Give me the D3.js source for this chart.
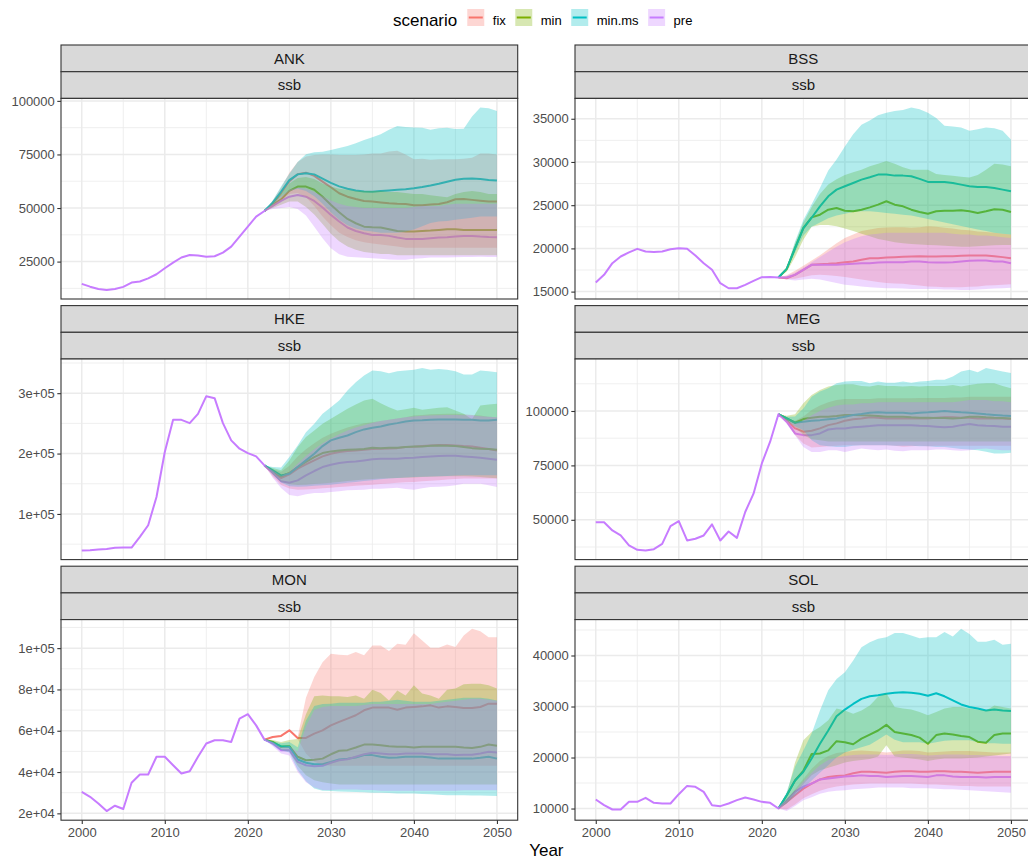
<!DOCTYPE html>
<html>
<head>
<meta charset="utf-8">
<script src="https://cdn.jsdelivr.net/npm/d3@7"></script>
<style>
  body { margin: 0; background: #ffffff; }
  svg { display: block; }
  text { font-family: "Liberation Sans", Arial, sans-serif; }
</style>
</head>
<body>
<svg id="chart" width="1028" height="860"></svg>
<script>
// ---- Spawning stock biomass by stock and management scenario ----
const stocks = ["ANK", "BSS", "HKE", "MEG", "MON", "SOL"];
const scenarios = ["fix", "min", "minms", "pre"];
const scenarioLabels = ["fix", "min", "min.ms", "pre"];
const scenarioColors = ["#F8766D", "#7CAE00", "#00BFC4", "#C77CFF"];
const historyScenario = "pre";   // the observed series is shown once, in this scenario's colour
const indicator = "ssb";
const xTitle = "Year";
const legendTitle = "scenario";

const firstYear = 2000, projYear = 2022, lastYear = 2050;
const histYears = d3.range(firstYear, projYear + 1);   // 2000..2022
const projYears = d3.range(projYear, lastYear + 1);    // 2022..2050
const xTicks = [2000, 2010, 2020, 2030, 2040, 2050];

// ---------------- ANK ----------------
const ANK_hist = [14600, 13300, 12200, 11800, 12200, 13200, 15200, 15700, 17200, 19100, 21900, 24500, 26900, 28100, 27800, 27300, 27500, 29200, 32000, 36700, 41300, 46000, 48600];
const ANK_fix_med = [48600, 52000, 57000, 62500, 65800, 66500, 65000, 62300, 59700, 56900, 55300, 54200, 53300, 53000, 52600, 52200, 52000, 51900, 51300, 51300, 51600, 51900, 52700, 54100, 54200, 53800, 53400, 53000, 53000];
const ANK_fix_lo = [48600, 50500, 53500, 56500, 57000, 55000, 51000, 46000, 42000, 38500, 36500, 35000, 34000, 33500, 33000, 32500, 32000, 31500, 31500, 31500, 31500, 31500, 31500, 31500, 31500, 31500, 31500, 31500, 31500];
const ANK_fix_hi = [48600, 53500, 59500, 66500, 71500, 74000, 74800, 75000, 75000, 74800, 74800, 74800, 75000, 75500, 75500, 76400, 76700, 75000, 72800, 73000, 72500, 72800, 72800, 72800, 73000, 73500, 75500, 75500, 75000];
const ANK_min_med = [48600, 51500, 54000, 58000, 60000, 60000, 58500, 55300, 51500, 48000, 44900, 42900, 41300, 41000, 40900, 40100, 39300, 39000, 39000, 39300, 39500, 39800, 40100, 40100, 39800, 39800, 39800, 39800, 39800];
const ANK_min_lo = [48600, 50000, 51500, 53000, 53000, 50500, 47000, 42500, 38000, 34500, 32000, 30500, 29500, 29000, 28500, 28500, 28000, 28000, 28000, 28000, 28000, 28000, 28000, 28000, 28000, 28000, 28000, 28000, 28000];
const ANK_min_hi = [48600, 52500, 56500, 61500, 64000, 64500, 63500, 61500, 60000, 59000, 58500, 58000, 58000, 58000, 58000, 57500, 57500, 57000, 56500, 56500, 56000, 55500, 55000, 56500, 57500, 58000, 57500, 56500, 56500];
const ANK_minms_med = [48600, 52500, 57600, 63000, 65700, 66200, 65700, 63700, 61700, 60100, 59000, 58200, 57700, 57600, 57900, 58200, 58500, 58800, 59200, 59800, 60500, 61300, 62300, 63200, 63700, 63800, 63500, 63100, 62800];
const ANK_minms_lo = [48600, 51500, 55000, 58000, 59000, 58000, 55500, 52000, 48000, 44500, 42000, 40500, 39500, 39000, 38500, 38500, 38500, 39000, 40000, 41500, 43000, 43700, 44000, 44500, 45000, 45500, 46000, 46000, 46000];
const ANK_minms_hi = [48600, 53500, 60000, 66000, 71500, 75100, 76000, 76300, 77100, 78000, 79000, 80200, 81800, 83000, 84400, 86500, 88300, 87800, 87600, 87500, 86500, 87200, 87500, 86900, 87000, 92700, 96900, 96600, 95300];
const ANK_pre_med = [48600, 51000, 53300, 55300, 56100, 55300, 53300, 50200, 46800, 43700, 40900, 39300, 38200, 37400, 37400, 37000, 36200, 35600, 35600, 35600, 35900, 36200, 36400, 36700, 37000, 37000, 36700, 36500, 36400];
const ANK_pre_lo = [48600, 49500, 50000, 50500, 49500, 46500, 41300, 35900, 31200, 28400, 27300, 27000, 26800, 26600, 26300, 26000, 25900, 25900, 26300, 26600, 26900, 26900, 26900, 27000, 27200, 27200, 27300, 27200, 27200];
const ANK_pre_hi = [48600, 52000, 55500, 58500, 59500, 59000, 57500, 55500, 53500, 52000, 51000, 50500, 50000, 50000, 50000, 50000, 50000, 50000, 50500, 51000, 51000, 51000, 51500, 52000, 52000, 52000, 52000, 52000, 52000];
const ANK_ticks = [25000, 50000, 75000, 100000];
const ANK_tickLabels = ["25000", "50000", "75000", "100000"];

// ---------------- BSS ----------------
const BSS_hist = [16050, 16940, 18290, 19060, 19530, 19950, 19640, 19570, 19640, 19900, 20030, 19950, 19180, 18290, 17520, 15970, 15390, 15390, 15780, 16240, 16670, 16700, 16630];
const BSS_fix_med = [16630, 16550, 16940, 17520, 18100, 18170, 18210, 18290, 18400, 18480, 18680, 18870, 18870, 18950, 18990, 19020, 19060, 19100, 19060, 19060, 19100, 19100, 19140, 19180, 19180, 19180, 19100, 18990, 18870];
const BSS_fix_lo = [16630, 16450, 16500, 16700, 16900, 16950, 16900, 16800, 16700, 16550, 16400, 16250, 16100, 16000, 15950, 15900, 15800, 15700, 15600, 15550, 15500, 15500, 15500, 15550, 15600, 15700, 15750, 15800, 15850];
const BSS_fix_hi = [16630, 16900, 17400, 18000, 18600, 19200, 19900, 20600, 21200, 21600, 22000, 22200, 22350, 22430, 22450, 22450, 22400, 22450, 22550, 22500, 22400, 22300, 22150, 22100, 21950, 21900, 21800, 21700, 21600];
const BSS_min_med = [16630, 17630, 20030, 22350, 23590, 23900, 24480, 24670, 24360, 24290, 24480, 24750, 25060, 25450, 25060, 24870, 24480, 24210, 24010, 24290, 24360, 24360, 24400, 24290, 24100, 24290, 24520, 24480, 24210];
const BSS_min_lo = [16630, 17300, 19000, 21000, 22500, 22700, 22700, 22550, 22300, 22000, 21700, 21400, 21100, 20900, 20700, 20600, 20500, 20450, 20400, 20350, 20300, 20250, 20200, 20200, 20250, 20300, 20350, 20400, 20400];
const BSS_min_hi = [16630, 17800, 20600, 23000, 24800, 26300, 27400, 28000, 28500, 28800, 29100, 29500, 29800, 30100, 29800, 29400, 29100, 29100, 29100, 28600, 28500, 28400, 28300, 28200, 28500, 29100, 29800, 29700, 29500];
const BSS_minms_med = [16630, 17630, 20030, 22350, 23550, 24870, 26030, 26800, 27190, 27570, 27960, 28230, 28540, 28540, 28420, 28420, 28350, 28040, 27690, 27690, 27690, 27570, 27380, 27190, 27110, 27110, 26990, 26800, 26610];
const BSS_minms_lo = [16630, 17500, 19500, 21500, 22500, 23000, 23500, 23800, 24000, 24200, 24300, 24300, 24200, 24100, 24000, 23900, 23800, 23600, 23400, 23200, 23000, 22800, 22600, 22400, 22200, 22000, 21800, 21700, 21600];
const BSS_minms_hi = [16630, 17800, 20800, 23300, 25100, 27000, 29000, 30300, 31800, 33200, 34300, 34800, 35400, 35700, 35900, 36000, 36300, 36100, 35700, 35100, 34200, 34100, 34000, 33600, 33800, 34000, 33900, 33600, 32600];
const BSS_pre_med = [16630, 16630, 16940, 17520, 18100, 18100, 18100, 18100, 18170, 18210, 18290, 18290, 18370, 18410, 18410, 18410, 18480, 18480, 18410, 18370, 18370, 18410, 18480, 18560, 18600, 18600, 18480, 18480, 18290];
const BSS_pre_lo = [16630, 16400, 16300, 16400, 16500, 16400, 16200, 16000, 15800, 15700, 15600, 15500, 15450, 15400, 15400, 15350, 15300, 15300, 15300, 15300, 15250, 15250, 15200, 15200, 15250, 15300, 15350, 15400, 15450];
const BSS_pre_hi = [16630, 16800, 17200, 17800, 18400, 19000, 19600, 20200, 20700, 21100, 21400, 21600, 21700, 21800, 21800, 21800, 21800, 21800, 21800, 21800, 21800, 21700, 21600, 21600, 21500, 21500, 21400, 21300, 21200];
const BSS_ticks = [15000, 20000, 25000, 30000, 35000];
const BSS_tickLabels = ["15000", "20000", "25000", "30000", "35000"];

// ---------------- HKE ----------------
const HKE_hist = [39500, 40000, 41000, 42000, 44000, 44300, 44300, 62000, 81300, 128100, 202500, 255900, 255900, 250400, 265800, 295000, 291700, 250400, 221800, 208000, 200800, 195300, 180400];
const HKE_fix_med = [180400, 168500, 159500, 165600, 174900, 182100, 188700, 195300, 199700, 202500, 204100, 205200, 206300, 207400, 208000, 208500, 209000, 210700, 211300, 212400, 213500, 214100, 214100, 213500, 212400, 211800, 209600, 207400, 205200];
const HKE_fix_lo = [180400, 162000, 148000, 142000, 140000, 140500, 141500, 142500, 143500, 144500, 145500, 146500, 147500, 148500, 149500, 150500, 151500, 152500, 153000, 154000, 155000, 156000, 157000, 158000, 158500, 158500, 158500, 158500, 158500];
const HKE_fix_hi = [180400, 174000, 170000, 180000, 195000, 207000, 217000, 226000, 233000, 238000, 243000, 247000, 250000, 252000, 254000, 256000, 258000, 260000, 263000, 264000, 265000, 265500, 266000, 266000, 265000, 264000, 263000, 261000, 260000];
const HKE_min_med = [180400, 170000, 162300, 167800, 177700, 186000, 194200, 200800, 203600, 205200, 206300, 206800, 207400, 209600, 209000, 209600, 209600, 210700, 211800, 211800, 212900, 213500, 212900, 212400, 210700, 209000, 207900, 207400, 206300];
const HKE_min_lo = [180400, 165000, 153000, 149000, 148000, 148500, 149500, 150500, 151500, 153000, 154500, 156000, 157000, 158000, 158500, 159000, 159500, 160000, 160500, 161000, 161500, 162000, 162500, 162500, 162500, 162000, 161000, 160000, 159000];
const HKE_min_hi = [180400, 176000, 172200, 188700, 210700, 227300, 238300, 249300, 257600, 265800, 274100, 281300, 287900, 290600, 283500, 276900, 271300, 273500, 275800, 272500, 274100, 275800, 276900, 271300, 265800, 257000, 279600, 281300, 282400];
const HKE_minms_med = [180400, 172200, 163900, 166700, 177700, 188700, 199700, 212400, 221800, 226200, 230000, 235500, 240000, 242700, 244900, 248200, 250400, 253200, 254800, 255000, 255900, 256300, 256300, 256300, 255900, 255900, 254800, 254800, 255900];
const HKE_minms_lo = [180400, 166000, 152000, 146000, 145000, 145500, 146500, 147500, 148500, 150000, 151500, 153000, 154500, 156000, 157500, 158500, 159500, 160500, 161000, 161500, 162000, 162500, 163000, 163500, 164000, 164000, 164000, 164000, 164000];
const HKE_minms_hi = [180400, 177700, 177000, 194200, 213500, 235500, 249300, 265800, 276900, 287900, 304400, 318200, 329200, 337500, 336400, 333100, 336400, 337500, 338600, 341500, 338600, 340200, 338600, 336400, 330900, 330900, 337500, 336400, 334700];
const HKE_pre_med = [180400, 167800, 154000, 151800, 155600, 163900, 171100, 177700, 181500, 184300, 185900, 187000, 188700, 190400, 191500, 191500, 191500, 192600, 193100, 194200, 195300, 195900, 196400, 196400, 195300, 194200, 193100, 191500, 189800];
const HKE_pre_lo = [180400, 160000, 143000, 131500, 129500, 132500, 134500, 134700, 136400, 137500, 139100, 139600, 140200, 141900, 141900, 142500, 143500, 141500, 140200, 142500, 144600, 145000, 145700, 147400, 150100, 150100, 150100, 147500, 144600];
const HKE_pre_hi = [180400, 172000, 163000, 170000, 183000, 196000, 207000, 217000, 225000, 232000, 238000, 243000, 247000, 251000, 254000, 256000, 258000, 260000, 261500, 262500, 263000, 263500, 264000, 264000, 263500, 263000, 262000, 261000, 260000];
const HKE_ticks = [100000, 200000, 300000];
const HKE_tickLabels = ["1e+05", "2e+05", "3e+05"];

// ---------------- MEG ----------------
const MEG_hist = [48900, 48900, 45100, 42800, 38200, 36200, 35900, 36500, 38900, 47100, 49400, 40500, 41300, 42800, 47900, 40500, 44600, 41700, 53600, 62000, 75900, 85900, 98500];
const MEG_fix_med = [98500, 95600, 92000, 90500, 90900, 92000, 93500, 94300, 95500, 96200, 96600, 97100, 96900, 96600, 96600, 96600, 96600, 96600, 96600, 96900, 97100, 97100, 96900, 96900, 96600, 96600, 96600, 96500, 96300];
const MEG_fix_lo = [98500, 94500, 89000, 85100, 83200, 83500, 83800, 84000, 84300, 84300, 84300, 84300, 84300, 84300, 84000, 83600, 83800, 84000, 83800, 84000, 84000, 84000, 84000, 84000, 84000, 84000, 84000, 84000, 84000];
const MEG_fix_hi = [98500, 96500, 95500, 97500, 100500, 102500, 104000, 105000, 105500, 105500, 105500, 105500, 105800, 105800, 105800, 105800, 105800, 106000, 106000, 106000, 106000, 106200, 106200, 106500, 106500, 106500, 106500, 106500, 106500];
const MEG_min_med = [98500, 96600, 94600, 96300, 96900, 97400, 97400, 97700, 98200, 98200, 98000, 97900, 97700, 97400, 97400, 97400, 97100, 96900, 96900, 96800, 96800, 96600, 96800, 97400, 97400, 97100, 96900, 96800, 96600];
const MEG_min_lo = [98500, 95500, 92500, 89000, 87000, 86500, 86000, 86000, 86000, 86000, 86000, 86000, 86000, 86000, 86000, 86000, 86000, 86000, 86000, 86000, 86000, 86000, 86000, 86000, 86000, 86000, 86000, 86000, 86000];
const MEG_min_hi = [98500, 97800, 98500, 103500, 107400, 109700, 111200, 112000, 112300, 112300, 111500, 111200, 112000, 111500, 111500, 111200, 111500, 111200, 111500, 111500, 111500, 112000, 111200, 112000, 112500, 112800, 112800, 111500, 110500];
const MEG_minms_med = [98500, 96600, 94600, 95100, 95500, 95800, 96200, 96600, 97400, 98200, 98600, 99200, 99400, 99200, 99200, 99200, 98900, 99200, 99400, 99700, 100000, 99700, 99400, 99200, 98900, 98500, 98200, 97900, 97700];
const MEG_minms_lo = [98500, 95500, 93000, 91200, 86600, 84300, 83800, 83500, 83500, 84000, 84300, 84300, 84300, 84300, 84000, 84000, 84000, 83800, 83800, 83500, 83500, 83000, 82500, 82300, 82000, 81300, 80500, 80500, 80800];
const MEG_minms_hi = [98500, 97400, 97500, 101200, 106600, 108900, 110500, 112800, 113500, 113800, 113800, 112800, 113500, 113000, 113000, 113500, 113000, 113500, 113800, 114300, 114300, 115800, 118100, 118900, 117800, 119700, 118900, 118100, 117400];
const MEG_pre_med = [98500, 95100, 89700, 88900, 88900, 89700, 91500, 92000, 92000, 92500, 92800, 93100, 93500, 93500, 93500, 93500, 93500, 93200, 93100, 92800, 92500, 92800, 93500, 94000, 93500, 93200, 93100, 92800, 92800];
const MEG_pre_lo = [98500, 94000, 88900, 83500, 81200, 81200, 82000, 82000, 81200, 82000, 82800, 82300, 82000, 82300, 81700, 81500, 82000, 82000, 82000, 82300, 82300, 82000, 81700, 82000, 82500, 82800, 82300, 82000, 82000];
const MEG_pre_hi = [98500, 96000, 94000, 95500, 98000, 100000, 101500, 102500, 103000, 103000, 103500, 103500, 104000, 104000, 104000, 104000, 104000, 104000, 104000, 104000, 104000, 104000, 104500, 105000, 105000, 105000, 104500, 104500, 104000];
const MEG_ticks = [50000, 75000, 100000];
const MEG_tickLabels = ["50000", "75000", "100000"];

// ---------------- MON ----------------
const MON_hist = [30450, 28000, 24800, 21100, 23700, 22100, 34800, 38800, 38800, 47400, 47400, 43300, 39300, 40400, 47400, 53800, 55400, 55400, 54600, 65900, 68000, 62600, 55700];
const MON_fix_med = [55700, 57000, 57500, 60200, 56500, 56500, 58600, 60200, 62600, 64300, 65900, 67500, 69900, 71200, 71200, 71200, 70200, 71200, 71500, 71800, 72300, 71200, 71800, 71500, 71000, 71000, 71500, 73100, 73100];
const MON_fix_lo = [55700, 56700, 57200, 59900, 56000, 49000, 45000, 43500, 43000, 43000, 43000, 43000, 43000, 43000, 43000, 43000, 43000, 43000, 43000, 43000, 43000, 43000, 43000, 43000, 43000, 43000, 43000, 43000, 43000];
const MON_fix_hi = [55700, 57300, 57800, 60500, 57000, 76000, 86000, 93200, 97300, 96800, 96500, 98100, 96500, 101300, 101300, 98600, 102100, 101600, 107200, 103700, 100200, 100200, 101800, 100500, 106100, 109400, 108200, 105300, 105300];
const MON_min_med = [55700, 54600, 52200, 52500, 47400, 45700, 46000, 46500, 48600, 50300, 50600, 51900, 53300, 53300, 53000, 52500, 52200, 52200, 51900, 52200, 52200, 52200, 52200, 52200, 51900, 51700, 52200, 53300, 52700];
const MON_min_lo = [55700, 53500, 50500, 50000, 43000, 38500, 36000, 35000, 34500, 34000, 34000, 34000, 34000, 34000, 34000, 34000, 34000, 34000, 34000, 34000, 34000, 34000, 34000, 34000, 34000, 34000, 34000, 34000, 34000];
const MON_min_hi = [55700, 55500, 54500, 55500, 56000, 68000, 76700, 77100, 76700, 76700, 76300, 77100, 75500, 79900, 78300, 74700, 79500, 77100, 82000, 78000, 77100, 75500, 79900, 80400, 82500, 82800, 82800, 82000, 80400];
const MON_minms_med = [55700, 54100, 52500, 52200, 46100, 44500, 43800, 43800, 44900, 46100, 46400, 47000, 48200, 48200, 47400, 46900, 47000, 47400, 47400, 47400, 47000, 46500, 46500, 46500, 46500, 46500, 46900, 47400, 46500];
const MON_minms_lo = [55700, 53000, 50500, 49500, 41000, 35500, 32000, 31000, 30800, 30600, 30500, 30300, 30200, 30000, 30000, 29800, 29600, 29600, 29600, 29400, 29200, 29000, 28800, 28800, 28800, 28700, 28600, 28500, 28400];
const MON_minms_hi = [55700, 55000, 54000, 54500, 52000, 65000, 72000, 73000, 73100, 73500, 73500, 73500, 73500, 74000, 74000, 74500, 75000, 74500, 74000, 74000, 74000, 74500, 75000, 75500, 76000, 76000, 76000, 75500, 74700];
const MON_pre_med = [55700, 53800, 50600, 50600, 44900, 43300, 42800, 43000, 44500, 45700, 46200, 47400, 48600, 49300, 49000, 48600, 48600, 49000, 49000, 49000, 48600, 48600, 48600, 48200, 48400, 48400, 49000, 49800, 49500];
const MON_pre_lo = [55700, 52500, 49000, 48000, 40000, 35000, 32500, 31300, 31300, 31500, 31500, 31500, 31300, 31300, 31000, 31000, 31000, 31000, 31000, 31000, 31000, 31000, 31000, 31000, 31200, 31200, 31200, 31200, 31200];
const MON_pre_hi = [55700, 54500, 52000, 52500, 50000, 62000, 70000, 71500, 72000, 72000, 72000, 72000, 72500, 73000, 73000, 73000, 73000, 73000, 73000, 73000, 73000, 73500, 74000, 74500, 75000, 75500, 75500, 75000, 74500];
const MON_ticks = [20000, 40000, 60000, 80000, 100000];
const MON_tickLabels = ["2e+04", "4e+04", "6e+04", "8e+04", "1e+05"];

// ---------------- SOL ----------------
const SOL_hist = [11770, 10660, 9810, 9810, 11310, 11310, 12100, 11120, 10990, 10990, 12810, 14440, 14250, 13270, 10660, 10470, 10990, 11640, 12160, 11770, 11310, 11120, 10000];
const SOL_fix_med = [10000, 11300, 12600, 13900, 14900, 15700, 16200, 16400, 16500, 16900, 17200, 17200, 17100, 17000, 17200, 17300, 17300, 17200, 17200, 17300, 17300, 17200, 17200, 17100, 17000, 17100, 17200, 17200, 17200];
const SOL_fix_lo = [10000, 9800, 10800, 12000, 12800, 13500, 14000, 14300, 14500, 14700, 14800, 14900, 14900, 14900, 14900, 14900, 14900, 14800, 14700, 14700, 14600, 14500, 14400, 14400, 14300, 14300, 14300, 14300, 14300];
const SOL_fix_hi = [10000, 11800, 13800, 15800, 17800, 19300, 20300, 20900, 21100, 21300, 21400, 21300, 21200, 21000, 21200, 21400, 21400, 21300, 21000, 21100, 21200, 21300, 21300, 21300, 21200, 21100, 21000, 21000, 21000];
const SOL_min_med = [10000, 12600, 15500, 17400, 20700, 20800, 21400, 23200, 23000, 22600, 23700, 24500, 25300, 26400, 25000, 24700, 24400, 23900, 22700, 24400, 24700, 24500, 24200, 24000, 23100, 22900, 24400, 24700, 24700];
const SOL_min_lo = [10000, 11000, 12800, 14800, 16500, 17500, 18000, 18500, 19000, 19300, 19500, 19700, 20200, 22400, 20200, 20000, 19800, 19600, 19300, 19600, 19800, 19800, 19800, 19900, 20000, 20200, 20400, 20600, 20800];
const SOL_min_hi = [10000, 12800, 19000, 23400, 25000, 26000, 27300, 29600, 29200, 28600, 29200, 30200, 31900, 32600, 29900, 29600, 29400, 28900, 28300, 28900, 29600, 29900, 29900, 29600, 29400, 29200, 30200, 29900, 29600];
const SOL_minms_med = [10000, 12600, 15500, 17200, 19800, 22700, 25300, 28100, 29400, 30500, 31500, 32000, 32200, 32500, 32700, 32800, 32700, 32500, 32100, 32600, 32000, 31200, 30400, 29900, 29600, 29200, 29400, 29200, 29100];
const SOL_minms_lo = [10000, 11000, 12500, 14000, 15500, 17000, 18500, 20000, 21000, 21500, 22000, 22500, 23500, 24500, 23500, 23000, 23000, 23000, 22700, 23000, 23300, 23400, 23400, 23400, 23000, 22800, 22800, 22700, 22700];
const SOL_minms_hi = [10000, 13300, 18200, 21400, 24700, 29200, 33200, 35400, 36700, 39000, 41600, 42600, 43300, 43600, 44400, 44400, 43900, 43400, 43600, 43600, 44600, 43700, 45250, 44200, 42700, 42700, 43100, 42100, 42300];
const SOL_pre_med = [10000, 11600, 13300, 14300, 14900, 15700, 15900, 16100, 16300, 16400, 16500, 16400, 16400, 16200, 16300, 16400, 16400, 16300, 16200, 16500, 16500, 16300, 16200, 16200, 16200, 16100, 16200, 16200, 16200];
const SOL_pre_lo = [10000, 9500, 10500, 11600, 12200, 12900, 13300, 13500, 13600, 13800, 13900, 14000, 14100, 14100, 14100, 14100, 14000, 14000, 14000, 13900, 13800, 13800, 13700, 13600, 13500, 13400, 13300, 13200, 13100];
const SOL_pre_hi = [10000, 11500, 13400, 15300, 17000, 18500, 19500, 20000, 20300, 20500, 20600, 20600, 20600, 20500, 20600, 20700, 20700, 20600, 20400, 20500, 20600, 20600, 20600, 20500, 20500, 20400, 20400, 20300, 20300];
const SOL_ticks = [10000, 20000, 30000, 40000];
const SOL_tickLabels = ["10000", "20000", "30000", "40000"];

// ---- table of panels assembled from the arrays above ----
const panels = [
  { stock: "ANK", hist: ANK_hist, ticks: ANK_ticks, labels: ANK_tickLabels,
    fix: { med: ANK_fix_med, lo: ANK_fix_lo, hi: ANK_fix_hi }, min: { med: ANK_min_med, lo: ANK_min_lo, hi: ANK_min_hi },
    minms: { med: ANK_minms_med, lo: ANK_minms_lo, hi: ANK_minms_hi }, pre: { med: ANK_pre_med, lo: ANK_pre_lo, hi: ANK_pre_hi } },
  { stock: "BSS", hist: BSS_hist, ticks: BSS_ticks, labels: BSS_tickLabels,
    fix: { med: BSS_fix_med, lo: BSS_fix_lo, hi: BSS_fix_hi }, min: { med: BSS_min_med, lo: BSS_min_lo, hi: BSS_min_hi },
    minms: { med: BSS_minms_med, lo: BSS_minms_lo, hi: BSS_minms_hi }, pre: { med: BSS_pre_med, lo: BSS_pre_lo, hi: BSS_pre_hi } },
  { stock: "HKE", hist: HKE_hist, ticks: HKE_ticks, labels: HKE_tickLabels,
    fix: { med: HKE_fix_med, lo: HKE_fix_lo, hi: HKE_fix_hi }, min: { med: HKE_min_med, lo: HKE_min_lo, hi: HKE_min_hi },
    minms: { med: HKE_minms_med, lo: HKE_minms_lo, hi: HKE_minms_hi }, pre: { med: HKE_pre_med, lo: HKE_pre_lo, hi: HKE_pre_hi } },
  { stock: "MEG", hist: MEG_hist, ticks: MEG_ticks, labels: MEG_tickLabels,
    fix: { med: MEG_fix_med, lo: MEG_fix_lo, hi: MEG_fix_hi }, min: { med: MEG_min_med, lo: MEG_min_lo, hi: MEG_min_hi },
    minms: { med: MEG_minms_med, lo: MEG_minms_lo, hi: MEG_minms_hi }, pre: { med: MEG_pre_med, lo: MEG_pre_lo, hi: MEG_pre_hi } },
  { stock: "MON", hist: MON_hist, ticks: MON_ticks, labels: MON_tickLabels,
    fix: { med: MON_fix_med, lo: MON_fix_lo, hi: MON_fix_hi }, min: { med: MON_min_med, lo: MON_min_lo, hi: MON_min_hi },
    minms: { med: MON_minms_med, lo: MON_minms_lo, hi: MON_minms_hi }, pre: { med: MON_pre_med, lo: MON_pre_lo, hi: MON_pre_hi } },
  { stock: "SOL", hist: SOL_hist, ticks: SOL_ticks, labels: SOL_tickLabels,
    fix: { med: SOL_fix_med, lo: SOL_fix_lo, hi: SOL_fix_hi }, min: { med: SOL_min_med, lo: SOL_min_lo, hi: SOL_min_hi },
    minms: { med: SOL_minms_med, lo: SOL_minms_lo, hi: SOL_minms_hi }, pre: { med: SOL_pre_med, lo: SOL_pre_lo, hi: SOL_pre_hi } }
];

// sanity check on series lengths
panels.forEach(p => {
  if (p.hist.length !== histYears.length) throw new Error(p.stock + " hist length " + p.hist.length);
  scenarios.forEach(s => ["med", "lo", "hi"].forEach(k => {
    if (p[s][k].length !== projYears.length) throw new Error(p.stock + " " + s + " " + k + " length " + p[s][k].length);
  }));
});

// ---- layout (facet grid, 2 columns x 3 rows) ----
const svg = d3.select("#chart");
const colLeft = [61, 575];
const rowTop = [45, 305.6, 566.2];
const stripH = 26.7, panelW = 456.7, panelH = 200.6;
const gridColor = "#EBEBEB", frameColor = "#333333";
const xPad = (lastYear - firstYear) * 0.05;

panels.forEach((p, i) => {
  const col = i % 2, row = Math.floor(i / 2);
  const left = colLeft[col], top = rowTop[row] + 2 * stripH;
  const g = svg.append("g").attr("transform", `translate(${left},${top})`);

  const x = d3.scaleLinear().domain([firstYear - xPad, lastYear + xPad]).range([0, panelW]);
  const values = p.hist.concat(...scenarios.flatMap(s => [p[s].med, p[s].lo, p[s].hi]));
  const [vMin, vMax] = d3.extent(values);
  const yPad = (vMax - vMin) * 0.05;
  const y = d3.scaleLinear().domain([vMin - yPad, vMax + yPad]).range([panelH, 0]);

  // strips
  [p.stock, indicator].forEach((label, k) => {
    const sy = -2 * stripH + k * stripH;
    g.append("rect").attr("x", 0).attr("y", sy).attr("width", panelW).attr("height", stripH)
      .attr("fill", "#D9D9D9").attr("stroke", frameColor).attr("stroke-width", 1.1);
    g.append("text").attr("x", panelW / 2).attr("y", sy + stripH / 2).attr("dy", "0.36em")
      .attr("text-anchor", "middle").style("font-size", "15px").attr("fill", "#1A1A1A").text(label);
  });

  // panel background + grid
  g.append("rect").attr("width", panelW).attr("height", panelH).attr("fill", "#ffffff");
  const [d0, d1] = y.domain();
  const step = p.ticks[1] - p.ticks[0];
  const yMinor = [p.ticks[0] - step / 2].concat(p.ticks.map(t => t + step / 2)).filter(v => v > d0 && v < d1);
  const xMinor = xTicks.slice(0, -1).map(t => t + 5).concat([xTicks[0] - 5, xTicks[xTicks.length - 1] + 5])
    .filter(v => v > x.domain()[0] && v < x.domain()[1]);
  const grid = g.append("g");
  yMinor.forEach(v => grid.append("line").attr("x1", 0).attr("x2", panelW).attr("y1", y(v)).attr("y2", y(v))
    .attr("stroke", gridColor).attr("stroke-width", 0.8));
  xMinor.forEach(v => grid.append("line").attr("y1", 0).attr("y2", panelH).attr("x1", x(v)).attr("x2", x(v))
    .attr("stroke", gridColor).attr("stroke-width", 0.8));
  p.ticks.forEach(v => grid.append("line").attr("x1", 0).attr("x2", panelW).attr("y1", y(v)).attr("y2", y(v))
    .attr("stroke", gridColor).attr("stroke-width", 1.5));
  xTicks.forEach(v => grid.append("line").attr("y1", 0).attr("y2", panelH).attr("x1", x(v)).attr("x2", x(v))
    .attr("stroke", gridColor).attr("stroke-width", 1.5));

  // median lines, drawn beneath the ribbons; the observed history is drawn once
  const line = d3.line().x(d => x(d[0])).y(d => y(d[1]));
  scenarios.forEach((s, k) => {
    let pts = projYears.map((yr, j) => [yr, p[s].med[j]]);
    if (s === historyScenario) pts = histYears.slice(0, -1).map((yr, j) => [yr, p.hist[j]]).concat(pts);
    g.append("path").attr("d", line(pts)).attr("fill", "none")
      .attr("stroke", scenarioColors[k]).attr("stroke-width", 2).attr("stroke-linejoin", "round");
  });

  // uncertainty ribbons
  const area = d3.area().x(d => x(d.year)).y0(d => y(d.lo)).y1(d => y(d.hi));
  scenarios.forEach((s, k) => {
    const pts = projYears.map((yr, j) => ({ year: yr, lo: p[s].lo[j], hi: p[s].hi[j] }));
    g.append("path").attr("d", area(pts)).attr("fill", scenarioColors[k]).attr("fill-opacity", 0.3);
  });

  // panel frame
  g.append("rect").attr("width", panelW).attr("height", panelH).attr("fill", "none")
    .attr("stroke", frameColor).attr("stroke-width", 1.1);

  // y axis
  const yAxis = g.append("g").call(d3.axisLeft(y).tickValues(p.ticks).tickFormat((d, j) => p.labels[j])
    .tickSizeInner(3.7).tickSizeOuter(0).tickPadding(2.5));
  yAxis.select(".domain").remove();
  yAxis.selectAll(".tick line").attr("stroke", frameColor).attr("stroke-width", 1.1);
  yAxis.selectAll(".tick text").attr("fill", "#4D4D4D").style("font-size", "13px")
    .style("font-family", '"Liberation Sans", Arial, sans-serif');

  // x axis on the bottom row only
  if (row === 2) {
    const xAxis = g.append("g").attr("transform", `translate(0,${panelH})`)
      .call(d3.axisBottom(x).tickValues(xTicks).tickFormat(d3.format("d"))
        .tickSizeInner(3.7).tickSizeOuter(0).tickPadding(4));
    xAxis.select(".domain").remove();
    xAxis.selectAll(".tick line").attr("stroke", frameColor).attr("stroke-width", 1.1);
    xAxis.selectAll(".tick text").attr("fill", "#4D4D4D").style("font-size", "13px")
      .style("font-family", '"Liberation Sans", Arial, sans-serif');
  }
});

// x axis title
svg.append("text").attr("x", (colLeft[0] + colLeft[1] + panelW) / 2).attr("y", 856)
  .attr("text-anchor", "middle").style("font-size", "17px").attr("fill", "#000").text(xTitle);

// legend
const legend = svg.append("g");
let lx = 393;
const title = legend.append("text").attr("x", lx).attr("y", 25.5).style("font-size", "17px")
  .attr("fill", "#000").text(legendTitle);
lx += title.node().getComputedTextLength() + 10;
scenarioLabels.forEach((lab, k) => {
  legend.append("rect").attr("x", lx).attr("y", 9).attr("width", 17).attr("height", 17)
    .attr("fill", scenarioColors[k]).attr("fill-opacity", 0.3);
  legend.append("line").attr("x1", lx + 1.5).attr("x2", lx + 15.5).attr("y1", 17.5).attr("y2", 17.5)
    .attr("stroke", scenarioColors[k]).attr("stroke-width", 2);
  lx += 17 + 8.5;
  const t = legend.append("text").attr("x", lx).attr("y", 24.5).style("font-size", "13px")
    .attr("fill", "#000").text(lab);
  lx += t.node().getComputedTextLength() + 9.5;
});
</script>
</body>
</html>
